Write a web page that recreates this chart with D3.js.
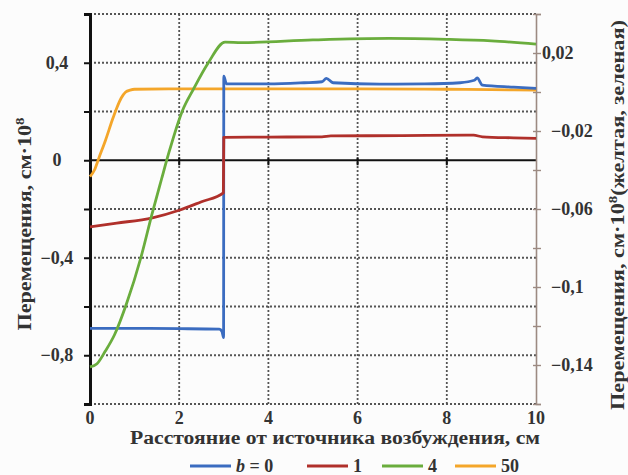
<!DOCTYPE html>
<html>
<head>
<meta charset="utf-8">
<script src="https://cdn.jsdelivr.net/npm/d3@7"></script>
<style>
  body { margin: 0; background: #fcfcfc; }
  svg { display: block; font-family: "Liberation Serif", "Times New Roman", Tinos, "Noto Serif", "DejaVu Serif", serif; }
</style>
</head>
<body>
<div id="chart"></div>
<script>
// x ticks (cm)
const xTicks = [0, 2, 4, 6, 8, 10];
const leftLabelTicks = [0.4, 0, -0.4, -0.8];
const rightLabelTicks = [0.02, -0.02, -0.06, -0.1, -0.14];

// b = 0 and b = 1 read on the left axis
const seriesB0 = [
  [0, -0.690], [1, -0.690], [2, -0.691], [2.9, -0.693], [2.96, -0.703], [2.995, -0.728],
  [3.0, 0.345], [3.06, 0.313], [4, 0.313], [4.8, 0.318], [5.2, 0.322], [5.3, 0.336],
  [5.45, 0.318], [6.5, 0.312], [7.5, 0.313], [8.3, 0.318], [8.62, 0.328], [8.68, 0.338],
  [8.8, 0.308], [9.5, 0.300], [10, 0.295]
];
const seriesB1 = [
  [0, -0.273], [0.6, -0.258], [1.4, -0.236], [2, -0.205], [2.5, -0.17], [2.99, -0.134],
  [3.0, 0.094], [4, 0.095], [5.2, 0.096], [5.4, 0.100], [7, 0.101], [8.6, 0.103],
  [8.8, 0.096], [9.5, 0.092], [10, 0.090]
];
// b = 4 and b = 50 read on the right axis
const seriesB4 = [
  [0, -0.141], [0.15, -0.1395], [0.34, -0.133], [0.55, -0.1245], [0.82, -0.1085],
  [1.14, -0.085], [1.39, -0.0626], [1.6, -0.045], [1.77, -0.031], [2.07, -0.0097],
  [2.32, 0.0015], [2.65, 0.0149], [3.03, 0.0256], [3.4, 0.0253], [5, 0.0267],
  [6.7, 0.0275], [8, 0.027], [9, 0.0262], [10, 0.0246]
];
const seriesB50 = [
  [0, -0.0434], [0.1, -0.040], [0.2, -0.0338], [0.35, -0.0246], [0.5, -0.0144],
  [0.6, -0.0082], [0.7, -0.0031], [0.8, 0.0], [0.9, 0.001], [1.0, 0.0014], [2, 0.0016],
  [4, 0.0016], [6, 0.0016], [8, 0.0014], [9, 0.0012], [10, 0.001]
];

const legendItems = [
  { label: '0', prefix: 'b = ', color: '#3b6cc0' },
  { label: '1', color: '#b0302b' },
  { label: '4', color: '#6aad3d' },
  { label: '50', color: '#f4a62a' }
];

const width = 628, height = 475;
const margin = { top: 14, right: 92, bottom: 71, left: 90 };
const fmt = d => (d < 0 ? '\u2212' : '') + String(Math.abs(d)).replace('.', ',');
const textColor = '#333';

const svg = d3.select('#chart').append('svg')
  .attr('width', width)
  .attr('height', height);

const x = d3.scaleLinear().domain([0, 10]).range([margin.left, width - margin.right]);
const yL = d3.scaleLinear().domain([-1, 0.6]).range([height - margin.bottom, margin.top]);
const yR = d3.scaleLinear().domain([-0.16, 0.04]).range([height - margin.bottom, margin.top]);

const grid = svg.append('g');
// horizontal dotted grid
grid.selectAll('line.h')
  .data(d3.range(-1, 0.61, 0.2).filter(d => Math.abs(d) > 1e-6))
  .enter().append('line')
  .attr('x1', x(0)).attr('x2', x(10))
  .attr('y1', d => yL(d)).attr('y2', d => yL(d))
  .attr('stroke', '#555')
  .attr('stroke-width', 1.8)
  .attr('stroke-dasharray', '2,2');
// vertical dotted grid
grid.selectAll('line.v')
  .data([2, 4, 6, 8])
  .enter().append('line')
  .attr('x1', d => x(d)).attr('x2', d => x(d))
  .attr('y1', yL(0.6)).attr('y2', yL(-1))
  .attr('stroke', '#555')
  .attr('stroke-width', 1.8)
  .attr('stroke-dasharray', '2,2');

// zero line with ticks
svg.append('line')
  .attr('x1', x(0)).attr('x2', x(10))
  .attr('y1', yL(0)).attr('y2', yL(0))
  .attr('stroke', '#111').attr('stroke-width', 2);
svg.selectAll('line.zt')
  .data([2, 4, 6, 8])
  .enter().append('line')
  .attr('x1', d => x(d)).attr('x2', d => x(d))
  .attr('y1', yL(0) - 3).attr('y2', yL(0) + 5)
  .attr('stroke', '#111').attr('stroke-width', 2);

// right axis
const rightAxis = d3.axisRight(yR)
  .tickValues(d3.range(-0.16, 0.041, 0.02))
  .tickSize(5)
  .tickFormat('');
const gR = svg.append('g')
  .attr('transform', `translate(${x(10)},0)`)
  .call(rightAxis);
gR.select('.domain').attr('stroke', '#9c8a82').attr('stroke-width', 1.6);
gR.selectAll('.tick line').attr('stroke', '#9c8a82').attr('stroke-width', 1.4).attr('x1', -3);
svg.selectAll('text.rl')
  .data(rightLabelTicks)
  .enter().append('text')
  .attr('x', d => x(10) + (d < 0 ? 15 : 6))
  .attr('y', d => yR(d) + 6)
  .attr('font-size', 18)
  .attr('font-weight', 'bold')
  .attr('fill', textColor)
  .text(fmt);

// left axis
const leftAxis = d3.axisLeft(yL)
  .tickValues(d3.range(-1, 0.61, 0.2))
  .tickSize(6)
  .tickFormat('');
const gL = svg.append('g')
  .attr('transform', `translate(${x(0)},0)`)
  .call(leftAxis);
gL.select('.domain').attr('stroke', '#111').attr('stroke-width', 3);
gL.selectAll('.tick line').attr('stroke', '#111').attr('stroke-width', 2);
svg.selectAll('text.ll')
  .data(leftLabelTicks)
  .enter().append('text')
  .attr('x', x(0) - 33)
  .attr('y', d => yL(d) + 6)
  .attr('text-anchor', 'middle')
  .attr('font-size', 18)
  .attr('font-weight', 'bold')
  .attr('fill', textColor)
  .text(fmt);

// x tick labels
svg.selectAll('text.xl')
  .data(xTicks)
  .enter().append('text')
  .attr('x', d => x(d))
  .attr('y', yL(-1) + 20)
  .attr('text-anchor', 'middle')
  .attr('font-size', 18)
  .attr('font-weight', 'bold')
  .attr('fill', textColor)
  .text(d => d);

// curves
const lineL = d3.line().x(d => x(d[0])).y(d => yL(d[1])).curve(d3.curveMonotoneX);
const lineR = d3.line().x(d => x(d[0])).y(d => yR(d[1])).curve(d3.curveMonotoneX);
const curves = [
  { data: seriesB50, line: lineR, color: legendItems[3].color },
  { data: seriesB0, line: lineL, color: legendItems[0].color },
  { data: seriesB1, line: lineL, color: legendItems[1].color },
  { data: seriesB4, line: lineR, color: legendItems[2].color }
];
svg.selectAll('path.curve')
  .data(curves)
  .enter().append('path')
  .attr('class', 'curve')
  .attr('d', d => d.line(d.data))
  .attr('fill', 'none')
  .attr('stroke', d => d.color)
  .attr('stroke-width', 2.8)
  .attr('stroke-linejoin', 'round');

// axis titles
svg.append('text')
  .attr('x', 335)
  .attr('y', 444)
  .attr('text-anchor', 'middle')
  .attr('font-size', 18)
  .attr('font-weight', 'bold')
  .attr('fill', textColor)
  .attr('textLength', 410)
  .attr('lengthAdjust', 'spacingAndGlyphs')
  .text('Расстояние от источника возбуждения, см');

const leftTitle = svg.append('text')
  .attr('transform', 'translate(31,224) rotate(-90)')
  .attr('text-anchor', 'middle')
  .attr('font-size', 18)
  .attr('font-weight', 'bold')
  .attr('fill', textColor)
  .attr('textLength', 213)
  .attr('lengthAdjust', 'spacingAndGlyphs');
leftTitle.append('tspan').text('Перемещения, см·10');
leftTitle.append('tspan').attr('dy', -7).attr('font-size', 12).text('8');

const rightTitle = svg.append('text')
  .attr('transform', 'translate(624,215) rotate(-90)')
  .attr('text-anchor', 'middle')
  .attr('font-size', 18)
  .attr('font-weight', 'bold')
  .attr('fill', textColor)
  .attr('textLength', 390)
  .attr('lengthAdjust', 'spacingAndGlyphs');
rightTitle.append('tspan').text('Перемещения, см·10');
rightTitle.append('tspan').attr('dy', -7).attr('font-size', 12).text('8');
rightTitle.append('tspan').attr('dy', 7).text('(желтая, зеленая)');

// legend
const legendX = [190, 307, 382, 455];
const legend = svg.selectAll('g.legend')
  .data(legendItems)
  .enter().append('g')
  .attr('transform', (d, i) => `translate(${legendX[i]},466)`);
legend.append('line')
  .attr('x1', 0).attr('x2', 41)
  .attr('stroke', d => d.color)
  .attr('stroke-width', 3);
const lt = legend.append('text')
  .attr('x', 46)
  .attr('y', 6)
  .attr('font-size', 18)
  .attr('font-weight', 'bold')
  .attr('fill', textColor);
lt.filter(d => d.prefix).append('tspan').attr('font-style', 'italic').text('b');
lt.filter(d => d.prefix).append('tspan').text(' = ');
lt.append('tspan').text(d => d.label);
</script>
</body>
</html>
